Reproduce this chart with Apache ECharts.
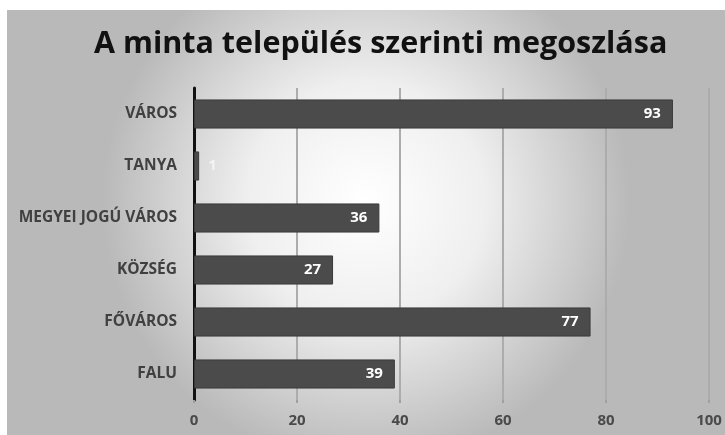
<!DOCTYPE html>
<html>
<head>
<meta charset="utf-8">
<script src="https://cdn.jsdelivr.net/npm/echarts@6/dist/echarts.min.js"></script>
<style>
  html, body { margin: 0; padding: 0; background: #ffffff; }
  #chart { width: 725px; height: 435px; }
</style>
</head>
<body>
<div id="chart"></div>
<script>
// Settlement types, listed bottom-to-top as they sit on the axis
const categories = ['FALU', 'FŐVÁROS', 'KÖZSÉG', 'MEGYEI JOGÚ VÁROS', 'TANYA', 'VÁROS'];
const counts = [39, 77, 27, 36, 1, 93];
const xTicks = [0, 20, 40, 60, 80, 100];

const chart = echarts.init(document.getElementById('chart'), null, { renderer: 'canvas' });

const FONT = '"Open Sans", "Liberation Sans", sans-serif';

const barData = counts.map(v => {
  const item = { value: v };
  // very short bars get their label just past the bar end
  if (v < 5) item.label = { position: 'right', offset: [4, 0], color: '#f4f4f4' };
  return item;
});

chart.setOption({
  backgroundColor: '#ffffff',
  animation: false,
  graphic: [{
    type: 'rect',
    z: -10,
    silent: true,
    shape: { x: 7, y: 10, width: 718, height: 425 },
    style: {
      fill: new echarts.graphic.RadialGradient(0.5, 0.45, 0.62, [
        { offset: 0, color: '#ffffff' },
        { offset: 0.45, color: '#efefef' },
        { offset: 1, color: '#b9b9b9' }
      ])
    }
  }],
  title: {
    text: 'A minta település szerinti megoszlása',
    left: 89,
    top: 24,
    textStyle: {
      fontFamily: FONT,
      fontWeight: 'bold',
      fontSize: 30.5,
      color: '#111111'
    }
  },
  grid: { left: 194, right: 16, top: 88, bottom: 35, containLabel: false },
  xAxis: {
    type: 'value',
    min: xTicks[0],
    max: xTicks[xTicks.length - 1],
    interval: xTicks[1] - xTicks[0],
    axisLine: { show: false },
    axisTick: { show: true, length: 3, lineStyle: { color: '#a0a0a0', width: 2 } },
    splitLine: { show: true, lineStyle: { color: '#acacac', width: 2 } },
    axisLabel: {
      margin: 13,
      fontFamily: FONT,
      fontWeight: 'bold',
      fontSize: 15,
      color: '#4a4a4a'
    }
  },
  yAxis: {
    type: 'category',
    data: categories,
    axisLine: { show: true, lineStyle: { color: '#111111', width: 3 } },
    axisTick: { show: false },
    axisLabel: {
      margin: 17,
      fontFamily: FONT,
      fontWeight: 'bold',
      fontSize: 15.5,
      color: '#404040'
    }
  },
  series: [{
    type: 'bar',
    data: barData,
    barWidth: '56%',
    itemStyle: { color: '#4b4b4b', borderColor: '#3a3a3a', borderWidth: 1 },
    label: {
      show: true,
      position: 'insideRight',
      offset: [-7, 0],
      fontFamily: FONT,
      fontWeight: 'bold',
      fontSize: 15,
      color: '#ffffff'
    }
  }]
});
</script>
</body>
</html>
